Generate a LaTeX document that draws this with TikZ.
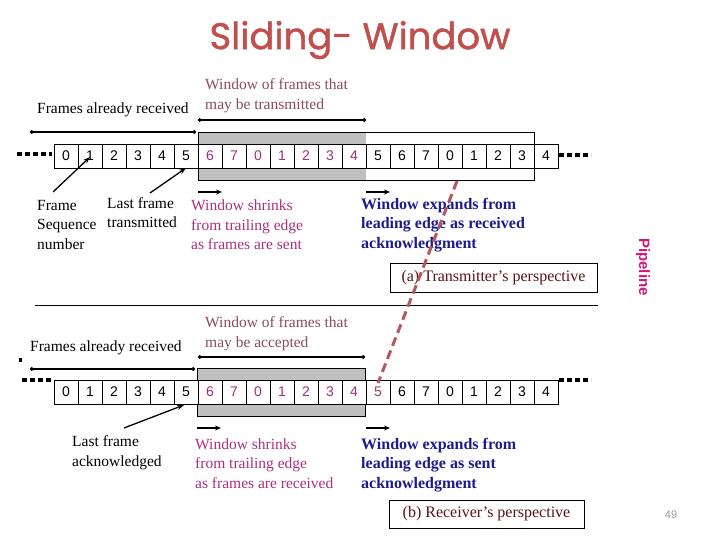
\documentclass[tikz,border=0pt]{standalone}
\usepackage{fontspec}
\setmainfont{Liberation Serif}
\setsansfont{Liberation Sans}
\newfontfamily\titlefont{Poppins}[FakeBold=1.2]
\usetikzlibrary{arrows.meta}
\definecolor{wincol}{HTML}{8C4B5C}
\definecolor{shrinkcol}{HTML}{A8307F}
\definecolor{expcol}{HTML}{1C1C8A}
\definecolor{capcol}{HTML}{5A1414}
\definecolor{pipecol}{HTML}{D0187A}
\definecolor{dashcol}{HTML}{B05A60}
\definecolor{titlecol}{HTML}{C0504D}
\definecolor{numwin}{HTML}{A0307F}
\definecolor{numfive}{HTML}{A0404A}
\definecolor{grayfill}{HTML}{C0C0C0}
\begin{document}
\begin{tikzpicture}[x=1pt,y=-1pt,
  cell/.style={draw, fill=white, line width=0.6pt, minimum width=24pt, minimum height=24pt, inner sep=0pt, font=\sffamily\fontsize{14}{14}\selectfont},
  body/.style={inner sep=0pt, anchor=west, align=left, font=\fontsize{15.5}{19.5}\selectfont},
  boldbody/.style={body, text=expcol, font=\bfseries\fontsize{16}{19.5}\selectfont},
  winline/.style={line width=1.5pt, {Circle[length=3.5pt]}-{Circle[length=3.5pt]}},
  pointer/.style={line width=1.3pt, -{Stealth[length=7pt,width=5pt]}},
  small/.style={line width=1.5pt, -{Stealth[length=6pt,width=5pt]}},
  dots/.style={line width=4pt, dash pattern=on 5pt off 3pt},
  capbox/.style={draw, line width=0.8pt, inner sep=0pt, text=capcol, font=\fontsize{16}{16}\selectfont}
]
\useasboundingbox[fill=white] (0,0) rectangle (720,540);

% title
\node[font=\titlefont\fontsize{37}{42}\selectfont, text=titlecol] (title) at (360,40) {Sliding- Window};

% ---------- top part ----------
\node[body, text=wincol] (twinlbl) at (205,95.5) {Window of frames that\\may be transmitted};
\node[body] (trecvlbl) at (37,110) {Frames already received};
\coordinate (tw1) at (198,120); \coordinate (tw2) at (366,120);
\draw[winline] (tw1) -- (tw2);
\coordinate (tr1) at (30,132); \coordinate (tr2) at (196,132);
\draw[winline] (tr1) -- (tr2);

\fill[grayfill] (198,132) rectangle (366,180);
\node[draw, line width=0.8pt, minimum width=336pt, minimum height=48pt, inner sep=0pt] (twin) at (366,156) {};

\foreach \lab [count=\i from 0] in {0,1,2,3,4,5,6,7,0,1,2,3,4,5,6,7,0,1,2,3,4}{
  \pgfmathsetmacro\xx{54+24*\i+12}
  \ifnum\i<6 \def\cc{black}\else\ifnum\i<13 \def\cc{numwin}\else\def\cc{black}\fi\fi
  \node[cell, text=\cc] (t\i) at (\xx,156) {\lab};
}
\coordinate (tdl1) at (17,154); \coordinate (tdl2) at (52,154);
\draw[dots] (tdl1) -- (tdl2);
\coordinate (tdr1) at (559,155); \coordinate (tdr2) at (591,155);
\draw[dots] (tdr1) -- (tdr2);

\node[body] (tframe) at (37,225) {Frame\\Sequence\\number};
\node[body] (tlast) at (107,212.5) {Last frame\\transmitted};
\coordinate (pa1) at (53,192); \coordinate (pa2) at (90,157);
\draw[pointer] (pa1) -- (pa2);
\coordinate (pb1) at (150,193); \coordinate (pb2) at (186,168);
\draw[pointer] (pb1) -- (pb2);

\coordinate (ts1) at (198,192); \coordinate (ts2) at (222,192);
\draw[small] (ts1) -- (ts2);
\coordinate (te1) at (366,192); \coordinate (te2) at (390,192);
\draw[small] (te1) -- (te2);

\node[body, text=shrinkcol] (tshrink) at (191,225) {Window shrinks\\from trailing edge\\as frames are sent};
\node[boldbody] (texp) at (361,225) {Window expands from\\leading edge as received\\acknowledgment};

\node[capbox, minimum width=207pt, minimum height=29pt] (capa) at (493.5,277.5) {(a) Transmitter’s perspective};

\node[rotate=-90, text=pipecol, font=\sffamily\bfseries\fontsize{15}{15}\selectfont, inner sep=0pt] (pipe) at (643,267) {Pipeline};

\coordinate (sep1) at (35,305); \coordinate (sep2) at (598,305);
\draw[line width=0.8pt] (sep1) -- (sep2);

% ---------- bottom part ----------
\node[body, text=wincol] (bwinlbl) at (205,333.5) {Window of frames that\\may be accepted};
\node[body] (brecvlbl) at (30,348) {Frames already received};
\fill (18.5,358) rectangle (21.5,362);
\coordinate (bw1) at (198,357); \coordinate (bw2) at (365,357);
\draw[winline] (bw1) -- (bw2);
\coordinate (br1) at (30,369); \coordinate (br2) at (195,369);
\draw[winline] (br1) -- (br2);

\node[fill=grayfill, draw, line width=0.8pt, minimum width=168pt, minimum height=48pt, inner sep=0pt] (bwin) at (281,392) {};

\foreach \lab [count=\i from 0] in {0,1,2,3,4,5,6,7,0,1,2,3,4,5,6,7,0,1,2,3,4}{
  \pgfmathsetmacro\xx{54+24*\i+12}
  \ifnum\i<6 \def\cc{black}\else\ifnum\i<13 \def\cc{numwin}\else\ifnum\i=13 \def\cc{numfive}\else\def\cc{black}\fi\fi\fi
  \node[cell, text=\cc] (b\i) at (\xx,392) {\lab};
}
\coordinate (bdl1) at (22,380); \coordinate (bdl2) at (52,380);
\draw[dots] (bdl1) -- (bdl2);
\coordinate (bdr1) at (559,380); \coordinate (bdr2) at (591,380);
\draw[dots] (bdr1) -- (bdr2);

\coordinate (pc1) at (124,428); \coordinate (pc2) at (184,405);
\draw[pointer] (pc1) -- (pc2);
\coordinate (bs1) at (197,428); \coordinate (bs2) at (221,428);
\draw[small] (bs1) -- (bs2);
\coordinate (be1) at (366,428); \coordinate (be2) at (390,428);
\draw[small] (be1) -- (be2);

\node[body] (blast) at (72,452.5) {Last frame\\acknowledged};
\node[body, text=shrinkcol] (bshrink) at (195,463.5) {Window shrinks\\from trailing edge\\as frames are received};
\node[boldbody] (bexp) at (361,465) {Window expands from\\leading edge as sent\\acknowledgment};

\node[capbox, minimum width=195pt, minimum height=28pt] (capb) at (486.5,514) {(b) Receiver’s perspective};

\node[text=gray!80, font=\sffamily\fontsize{11}{11}\selectfont] (pg) at (671,515) {49};

% dashed pipeline line
\coordinate (d1) at (457,181); \coordinate (d2) at (378,383);
\draw[dashcol, line width=3pt, dash pattern=on 9pt off 5pt] (d1) -- (d2);
\end{tikzpicture}
\end{document}
